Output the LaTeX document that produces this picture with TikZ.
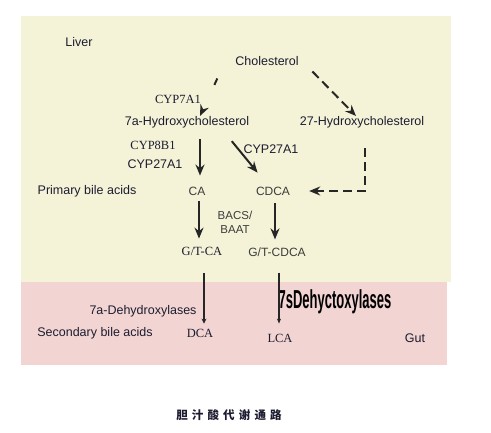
\documentclass[tikz,border=0pt]{standalone}
\usepackage{fontspec}
\setmainfont{Liberation Sans}
\newfontfamily\timesfont{Liberation Serif}
\newfontfamily\cjk{Noto Sans CJK SC}
\usetikzlibrary{arrows.meta}
\definecolor{liverbg}{RGB}{244,243,216}
\definecolor{gutbg}{RGB}{242,213,210}
\definecolor{ink}{RGB}{28,28,48}
\definecolor{greyink}{RGB}{60,60,60}
\tikzset{
	lbl/.style={inner sep=0pt, text=ink, font=\fontsize{12.5}{14}\selectfont},
	tlbl/.style={inner sep=0pt, text=ink, font=\fontsize{12.5}{14}\selectfont\timesfont},
	glbl/.style={inner sep=0pt, text=greyink, font=\fontsize{12}{14}\selectfont},
	arr/.style={line width=2pt, black!85, -{Stealth[length=11pt,width=9pt]}},
	darr/.style={arr, dash pattern=on 9pt off 5pt},
}

\begin{document}
\begin{tikzpicture}[x=1pt, y=-1pt]
	% page 491 x 432
	\useasboundingbox (0,0) rectangle (491,432);
	% regions
	\fill[liverbg] (21,16) rectangle (451,282);
	\fill[gutbg] (21,282) rectangle (447,365);

	% liver
	\node[lbl] (liver) at (79,42) {Liver};
	\node[lbl] (chol) at (267,61) {Cholesterol};
	\node[tlbl] (cyp7) at (178,99) {CYP7A1};
	\node[lbl] (h7a) at (187,122) {7a-Hydroxycholesterol};
	\node[lbl] (h27) at (362,122) {27-Hydroxycholesterol};
	\node[tlbl] (cyp8) at (153,145) {CYP8B1};
	\node[lbl] (cyp27l) at (155,164) {CYP27A1};
	\node[lbl] (cyp27r) at (271,149) {CYP27A1};
	\node[lbl] (prim) at (87,191) {Primary bile acids};
	\node[glbl] (ca) at (197,191) {CA};
	\node[glbl] (cdca) at (273,191) {CDCA};
	\node[glbl, align=center, font=\fontsize{11.5}{14}\selectfont] (bacs) at (235,222) {BACS/\\BAAT};
	\node[tlbl] (gtca) at (202,251) {G/T-CA};
	\node[glbl] (gtcdca) at (277,252) {G/T-CDCA};

	% gut
	\node[lbl] (dehyd) at (143,311) {7a-Dehydroxylases};
	\node[inner sep=0pt, text=black, font=\fontsize{26}{28}\selectfont\bfseries, xscale=0.5] (dehyd2) at (335,302) {7sDehyctoxylases};
	\node[lbl] (sec) at (95,333) {Secondary bile acids};
	\node[tlbl] (dca) at (200,333) {DCA};
	\node[tlbl] (lca) at (280,338) {LCA};
	\node[lbl] (gut) at (415,338) {Gut};

	% caption
	\node[inner sep=0pt, text=ink, font=\fontsize{11.5}{13}\selectfont\cjk\bfseries\addfontfeatures{LetterSpace=36}] (title) at (229,415) {胆汁酸代谢通路};

	% arrows
	\draw[darr, dash pattern=on 7pt off 40pt, shorten <=14pt] ([xshift=-12pt]chol.south west) -- ([xshift=13pt]h7a.north);
	\draw[darr, shorten <=8pt] ([xshift=8pt]chol.south east) -- ([xshift=-6pt]h27.north);
	\draw[arr, shorten <=11pt, shorten >=11pt] ([xshift=3pt]ca.north |- h7a.south) -- ([xshift=3pt]ca.north);
	\draw[arr, shorten <=17pt, shorten >=18pt] ([xshift=34pt]h7a.south) -- ([xshift=-4pt]cdca.north);
	\draw[darr, shorten <=20pt, shorten >=19pt] ([xshift=3pt]h27.south) |- (cdca.east);
	\draw[arr, shorten <=6pt, shorten >=8pt] ([xshift=2pt]ca.south) -- ([xshift=2pt]ca.south |- gtca.north);
	\draw[arr, shorten <=8pt, shorten >=8pt] ([xshift=2pt]cdca.south) -- ([xshift=2pt]cdca.south |- gtcdca.north);
	\draw[arr, -{Stealth[length=5pt,width=5pt]}, shorten <=18pt, shorten >=5pt] ([xshift=4pt]dca.north |- gtca.south) -- ([xshift=4pt]dca.north);
	\draw[arr, -{Stealth[length=5pt,width=4pt]}, shorten <=16pt, shorten >=10pt] ([xshift=-1pt]lca.north |- gtcdca.south) -- ([xshift=-1pt]lca.north);
\end{tikzpicture}
\end{document}
